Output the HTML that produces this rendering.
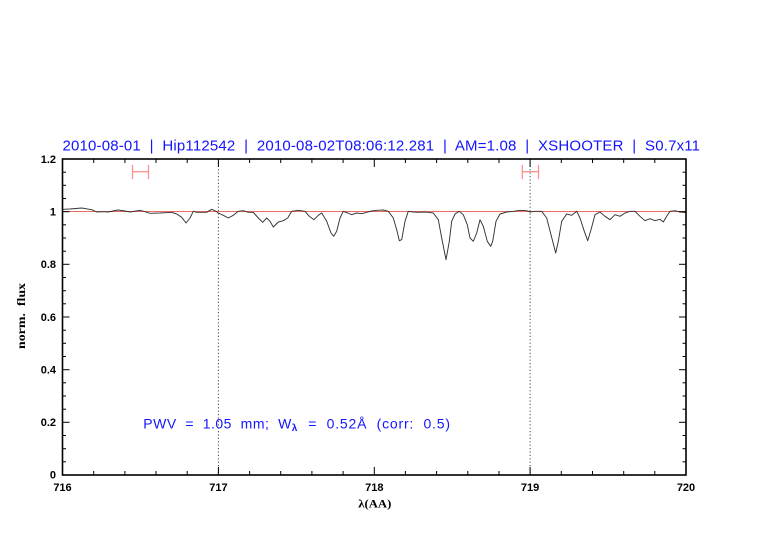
<!DOCTYPE html>
<html>
<head>
<meta charset="utf-8">
<style>
html,body{margin:0;padding:0;background:#fff;}
svg{display:block;}
</style>
</head>
<body>
<svg width="782" height="542" viewBox="0 0 782 542" xmlns="http://www.w3.org/2000/svg">
<rect width="782" height="542" fill="#fff"/>

<!-- Title -->
<text x="62.5" y="150.5" font-family="Liberation Sans, sans-serif" font-size="15" fill="#1414ff" textLength="637.5" lengthAdjust="spacing" style="white-space:pre">2010-08-01  |  Hip112542  |  2010-08-02T08:06:12.281  |  AM=1.08  |  XSHOOTER  |  S0.7x11</text>

<!-- dotted verticals at 717 and 719 -->
<line x1="218.4" y1="159" x2="218.4" y2="475" stroke="#444" stroke-width="1" stroke-dasharray="1.2 2.2"/>
<line x1="530.1" y1="159" x2="530.1" y2="475" stroke="#444" stroke-width="1" stroke-dasharray="1.2 2.2"/>

<!-- red continuum line -->
<line x1="62.5" y1="211.5" x2="686" y2="211.5" stroke="#ec6a62" stroke-width="1"/>

<!-- error bars -->
<g stroke="#ff9090" stroke-width="1.3" fill="none">
<line x1="132.5" y1="171.7" x2="148.5" y2="171.7"/>
<line x1="132.5" y1="165" x2="132.5" y2="179"/>
<line x1="148.5" y1="165" x2="148.5" y2="179"/>
<line x1="522.3" y1="171.7" x2="538.5" y2="171.7"/>
<line x1="522.3" y1="165" x2="522.3" y2="179"/>
<line x1="538.5" y1="165" x2="538.5" y2="179"/>
</g>

<!-- spectrum -->
<polyline fill="none" stroke="#333" stroke-width="0.95" stroke-linejoin="round" points="
62.7,209.3 70,209 81.7,208 91.7,209.7 96.7,212 103,211.7 108,212 118,210 125,211 130,212 140,210.3 145,211.7 150,213.3 160,213 171.7,212.3 176.7,214 181.7,217.3 186,223 190,218 193.3,211.3 196.7,212.3 206.7,212.3 211.7,209.3 216,211.3
218.3,213 223.3,215.3 228.3,218 233.3,215.3 238.3,211.3 243.3,210.7 248.3,212.3 253.3,212.3 258.3,218 262.7,222.3 266.7,218 270,221.3 273.3,227 278.3,222 283.3,220.7 287.7,218 291.7,211.3 298.3,210.3 305,211.3 309.3,216.3 314,219.7 318.3,215.3 321.7,213 326.7,221.3 331,233 333.7,236.3 336.7,231.3 340,218 343.3,211.3 347.7,213 351.7,214.7 356.7,213 361.7,213.7 366.7,212.3 371.7,211 376.7,210.3
383.3,210 388.3,211.3 393.3,218 396.7,229.7 399.3,240.7 401.7,239.7 405,221.3 408.3,211.3 413.3,212 418.3,212.3 423.3,212 428.3,212.3 433.3,213 438.3,219.7 441.7,238 446,259.7 449.3,241.3 451.7,221.3 455,214 459.3,211.3 463.3,214.7 467.3,224.7 470,238 473.3,241.3 476.7,233 480,219.7 483.3,226.3 487.3,241.3 490.7,246.3 492.7,241.3 496,221.3 500,214 506.7,212 513.3,211.3 520,210.3 526.7,210.7 530,212
535,211.3 541.7,211.3 546.7,218 551,234.7 555.7,253 558.3,241.3 561.7,221.3 566.7,214 571.7,215.3 576.7,211.3 580,218 584.3,231.3 587.7,240.7 591,229.7 595,214.7 600,212 605,216.3 610,219.7 615,214.7 620,216.3 625,213 630,211.3 635,211.3 640,216.3 645,220.7 650,218.7 655,220.7 660,219.3 663.3,222 666.7,216.3 670,211.3 675,210.7 680,212 686,212.5"/>

<!-- axes box -->
<rect x="62.5" y="159" width="623.5" height="316" fill="none" stroke="#000" stroke-width="1.6"/>

<!-- ticks -->
<g stroke="#000" stroke-width="1">
<line x1="93.7" y1="475" x2="93.7" y2="471"/><line x1="93.7" y1="159" x2="93.7" y2="163"/>
<line x1="124.9" y1="475" x2="124.9" y2="471"/><line x1="124.9" y1="159" x2="124.9" y2="163"/>
<line x1="156" y1="475" x2="156" y2="471"/><line x1="156" y1="159" x2="156" y2="163"/>
<line x1="187.2" y1="475" x2="187.2" y2="471"/><line x1="187.2" y1="159" x2="187.2" y2="163"/>
<line x1="218.4" y1="475" x2="218.4" y2="467"/><line x1="218.4" y1="159" x2="218.4" y2="167"/>
<line x1="249.6" y1="475" x2="249.6" y2="471"/><line x1="249.6" y1="159" x2="249.6" y2="163"/>
<line x1="280.7" y1="475" x2="280.7" y2="471"/><line x1="280.7" y1="159" x2="280.7" y2="163"/>
<line x1="311.9" y1="475" x2="311.9" y2="471"/><line x1="311.9" y1="159" x2="311.9" y2="163"/>
<line x1="343.1" y1="475" x2="343.1" y2="471"/><line x1="343.1" y1="159" x2="343.1" y2="163"/>
<line x1="374.3" y1="475" x2="374.3" y2="467"/><line x1="374.3" y1="159" x2="374.3" y2="167"/>
<line x1="405.4" y1="475" x2="405.4" y2="471"/><line x1="405.4" y1="159" x2="405.4" y2="163"/>
<line x1="436.6" y1="475" x2="436.6" y2="471"/><line x1="436.6" y1="159" x2="436.6" y2="163"/>
<line x1="467.8" y1="475" x2="467.8" y2="471"/><line x1="467.8" y1="159" x2="467.8" y2="163"/>
<line x1="499" y1="475" x2="499" y2="471"/><line x1="499" y1="159" x2="499" y2="163"/>
<line x1="530.1" y1="475" x2="530.1" y2="467"/><line x1="530.1" y1="159" x2="530.1" y2="167"/>
<line x1="561.3" y1="475" x2="561.3" y2="471"/><line x1="561.3" y1="159" x2="561.3" y2="163"/>
<line x1="592.5" y1="475" x2="592.5" y2="471"/><line x1="592.5" y1="159" x2="592.5" y2="163"/>
<line x1="623.7" y1="475" x2="623.7" y2="471"/><line x1="623.7" y1="159" x2="623.7" y2="163"/>
<line x1="654.8" y1="475" x2="654.8" y2="471"/><line x1="654.8" y1="159" x2="654.8" y2="163"/>
</g>
<g stroke="#000" stroke-width="1">
<line x1="62.5" y1="461.8" x2="66" y2="461.8"/><line x1="686" y1="461.8" x2="682.5" y2="461.8"/>
<line x1="62.5" y1="448.7" x2="66" y2="448.7"/><line x1="686" y1="448.7" x2="682.5" y2="448.7"/>
<line x1="62.5" y1="435.5" x2="66" y2="435.5"/><line x1="686" y1="435.5" x2="682.5" y2="435.5"/>
<line x1="62.5" y1="422.3" x2="69.5" y2="422.3"/><line x1="686" y1="422.3" x2="679" y2="422.3"/>
<line x1="62.5" y1="409.2" x2="66" y2="409.2"/><line x1="686" y1="409.2" x2="682.5" y2="409.2"/>
<line x1="62.5" y1="396" x2="66" y2="396"/><line x1="686" y1="396" x2="682.5" y2="396"/>
<line x1="62.5" y1="382.8" x2="66" y2="382.8"/><line x1="686" y1="382.8" x2="682.5" y2="382.8"/>
<line x1="62.5" y1="369.7" x2="69.5" y2="369.7"/><line x1="686" y1="369.7" x2="679" y2="369.7"/>
<line x1="62.5" y1="356.5" x2="66" y2="356.5"/><line x1="686" y1="356.5" x2="682.5" y2="356.5"/>
<line x1="62.5" y1="343.3" x2="66" y2="343.3"/><line x1="686" y1="343.3" x2="682.5" y2="343.3"/>
<line x1="62.5" y1="330.2" x2="66" y2="330.2"/><line x1="686" y1="330.2" x2="682.5" y2="330.2"/>
<line x1="62.5" y1="317" x2="69.5" y2="317"/><line x1="686" y1="317" x2="679" y2="317"/>
<line x1="62.5" y1="303.8" x2="66" y2="303.8"/><line x1="686" y1="303.8" x2="682.5" y2="303.8"/>
<line x1="62.5" y1="290.7" x2="66" y2="290.7"/><line x1="686" y1="290.7" x2="682.5" y2="290.7"/>
<line x1="62.5" y1="277.5" x2="66" y2="277.5"/><line x1="686" y1="277.5" x2="682.5" y2="277.5"/>
<line x1="62.5" y1="264.3" x2="69.5" y2="264.3"/><line x1="686" y1="264.3" x2="679" y2="264.3"/>
<line x1="62.5" y1="251.2" x2="66" y2="251.2"/><line x1="686" y1="251.2" x2="682.5" y2="251.2"/>
<line x1="62.5" y1="238" x2="66" y2="238"/><line x1="686" y1="238" x2="682.5" y2="238"/>
<line x1="62.5" y1="224.8" x2="66" y2="224.8"/><line x1="686" y1="224.8" x2="682.5" y2="224.8"/>
<line x1="62.5" y1="211.7" x2="69.5" y2="211.7"/><line x1="686" y1="211.7" x2="679" y2="211.7"/>
<line x1="62.5" y1="198.5" x2="66" y2="198.5"/><line x1="686" y1="198.5" x2="682.5" y2="198.5"/>
<line x1="62.5" y1="185.3" x2="66" y2="185.3"/><line x1="686" y1="185.3" x2="682.5" y2="185.3"/>
<line x1="62.5" y1="172.2" x2="66" y2="172.2"/><line x1="686" y1="172.2" x2="682.5" y2="172.2"/>
</g>

<!-- y tick labels -->
<g font-family="Liberation Sans, sans-serif" font-size="11" font-weight="bold" fill="#000" text-anchor="end">
<text x="56" y="163">1.2</text>
<text x="56" y="215.5">1</text>
<text x="56" y="268">0.8</text>
<text x="56" y="321">0.6</text>
<text x="56" y="373.5">0.4</text>
<text x="56" y="426">0.2</text>
<text x="56" y="478.5">0</text>
</g>

<!-- x tick labels -->
<g font-family="Liberation Sans, sans-serif" font-size="11" font-weight="bold" fill="#000" text-anchor="middle">
<text x="62.5" y="491">716</text>
<text x="218.4" y="491">717</text>
<text x="374.3" y="491">718</text>
<text x="530.1" y="491">719</text>
<text x="686" y="491">720</text>
</g>

<!-- axis labels -->
<text x="358.3" y="507.7" font-family="Liberation Serif, serif" font-size="12" font-weight="bold" fill="#000" textLength="33" lengthAdjust="spacingAndGlyphs">λ(AA)</text>
<text transform="translate(25,349) rotate(-90)" x="0" y="0" font-family="Liberation Serif, serif" font-size="12" font-weight="bold" fill="#000" textLength="66" lengthAdjust="spacingAndGlyphs" style="white-space:pre">norm.  flux</text>

<!-- PWV annotation -->
<g font-family="Liberation Sans, sans-serif" fill="#1414ff">
<text x="143.3" y="428.3" font-size="14" textLength="148" lengthAdjust="spacing" style="white-space:pre">PWV  =  1.05  mm;  W</text>
<text x="291.7" y="431" font-size="10" font-weight="bold">λ</text>
<text x="308.3" y="428.3" font-size="14" textLength="141.7" lengthAdjust="spacing" style="white-space:pre">=  0.52Å  (corr:  0.5)</text>
</g>
</svg>
</body>
</html>
